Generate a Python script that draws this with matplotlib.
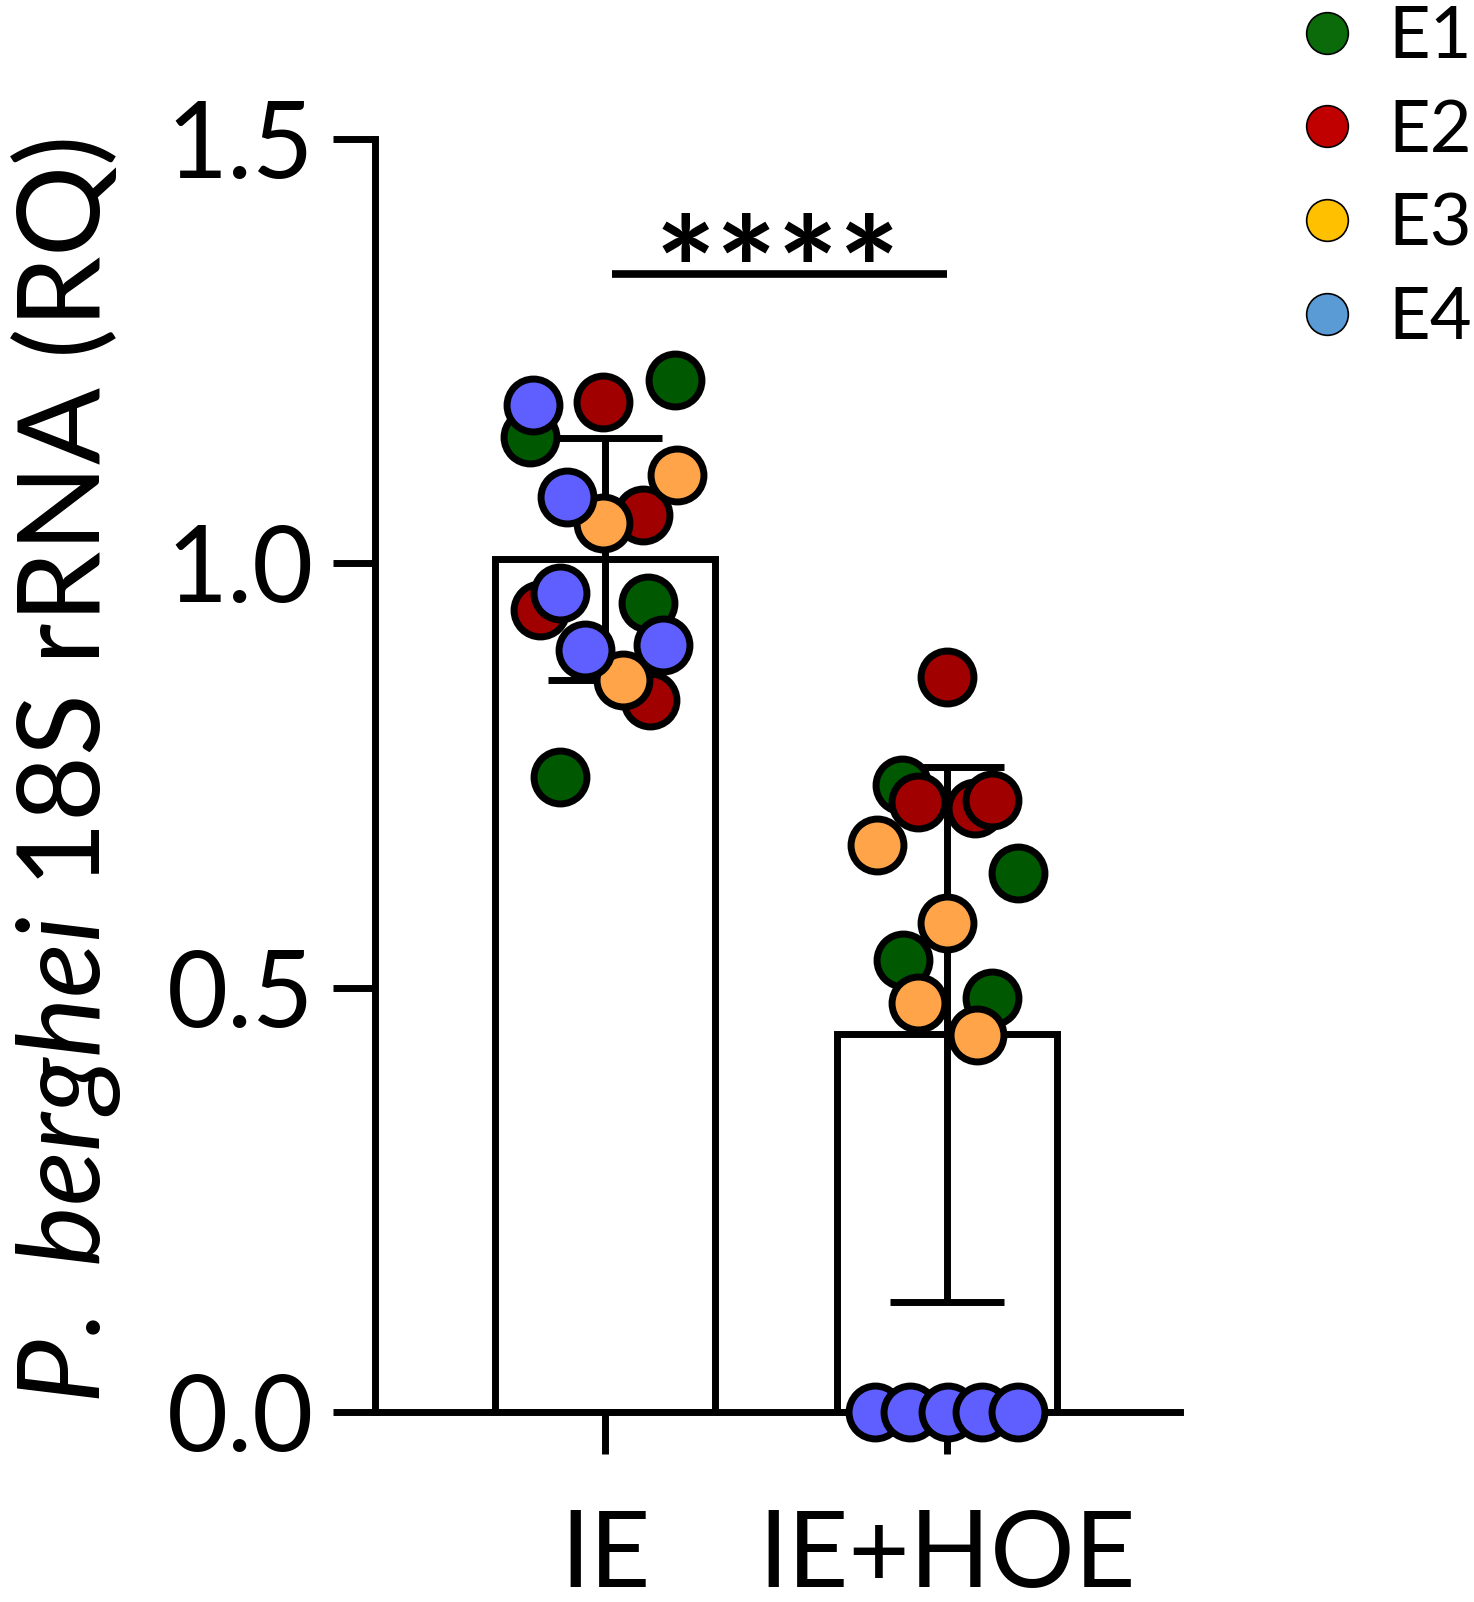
import numpy as np
import matplotlib
matplotlib.use("Agg")
import matplotlib.pyplot as plt
from matplotlib.lines import Line2D
from matplotlib.ticker import FormatStrFormatter

plt.rcParams['font.family'] = ['Lato', 'DejaVu Sans']
plt.rcParams['mathtext.fontset'] = 'custom'
plt.rcParams['mathtext.rm'] = 'Lato'
plt.rcParams['mathtext.it'] = 'Lato:italic'

# groups and bar summary (mean, SD)
groups = ["IE", "IE+HOE"]
means = [1.005, 0.445]
sds = [0.143, 0.315]

# experiments
exps = ["E1", "E2", "E3", "E4"]
dot_colors = ["#005800", "#A00000", "#FFA448", "#5F5FFF"]
legend_colors = ["#0B6B0B", "#C00000", "#FFC000", "#5B9BD5"]

# individual points, per group and experiment: (values, horizontal jitter)
ie_vals = {
    "E1": [1.149, 1.216, 0.953, 0.748],
    "E2": [1.190, 1.057, 0.945, 0.839],
    "E3": [1.104, 1.047, 0.862],
    "E4": [1.187, 1.078, 0.965, 0.898, 0.904],
}
ie_jit = {
    "E1": [-0.219, 0.205, 0.126, -0.132],
    "E2": [-0.006, 0.111, -0.190, 0.132],
    "E3": [0.211, -0.006, 0.053],
    "E4": [-0.211, -0.111, -0.132, -0.058, 0.170],
}
hoe_vals = {
    "E1": [0.739, 0.635, 0.533, 0.488],
    "E2": [0.866, 0.719, 0.712, 0.721],
    "E3": [0.668, 0.576, 0.482, 0.444],
    "E4": [0.0, 0.0, 0.0, 0.0, 0.0],
}
hoe_jit = {
    "E1": [-0.132, 0.208, -0.129, 0.132],
    "E2": [0.0, -0.085, 0.082, 0.132],
    "E3": [-0.205, 0.0, -0.085, 0.088],
    "E4": [-0.211, -0.108, 0.003, 0.102, 0.208],
}

fig = plt.figure(figsize=(14.74, 16.02), dpi=100)
ax = fig.add_axes([0.2544, 0.1186, 0.5461, 0.7946])

x = np.arange(len(groups))
ax.bar(x, means, width=0.643, color="white", edgecolor="black",
       linewidth=5, zorder=1)
ax.errorbar(x, means, yerr=sds, fmt="none", ecolor="black",
            elinewidth=5, capsize=41, capthick=5, zorder=2)

for gi, (vals, jit) in enumerate([(ie_vals, ie_jit), (hoe_vals, hoe_jit)]):
    for e, c in zip(exps, dot_colors):
        ax.scatter(gi + np.array(jit[e]), vals[e], s=1450, color=c,
                   edgecolor="black", linewidth=5, zorder=3, clip_on=False)

# significance
ax.plot([0.02, 1.0], [1.341, 1.341], color="black", lw=5.5,
        solid_capstyle="butt", clip_on=False)
ax.text(0.503, 1.285, "****", ha="center", va="baseline", fontsize=104,
        fontweight="bold")

ax.set_xlim(-0.673, 1.681)
ax.set_ylim(0, 1.5)
ax.set_yticks([0, 0.5, 1.0, 1.5])
ax.yaxis.set_major_formatter(FormatStrFormatter("%.1f"))
ax.set_xticks(x)
ax.set_xticklabels(groups)
for s in ["top", "right"]:
    ax.spines[s].set_visible(False)
for s in ["left", "bottom"]:
    ax.spines[s].set_linewidth(5)
ax.tick_params(axis="both", length=30, width=5, labelsize=76)
ax.tick_params(axis="y", pad=14)
ax.tick_params(axis="x", pad=40)

ax.set_ylabel(r"$\mathit{P.}$ $\mathit{berghei}$ 18S rRNA (RQ)", fontsize=82,
              va="center")
ax.yaxis.set_label_coords(-0.384, 0.5035)

handles = [Line2D([], [], marker="o", ls="none", markersize=30,
                  markerfacecolor=c, markeredgecolor="black", markeredgewidth=1.2)
           for c in legend_colors]
ax.legend(handles, exps, loc="upper left", bbox_to_anchor=(0.881, 0.997),
          bbox_transform=fig.transFigure, frameon=False, fontsize=52,
          handlelength=0.8, handletextpad=0.45, labelspacing=0.4,
          borderpad=0, borderaxespad=0)

fig.savefig("out.png", dpi=100)
